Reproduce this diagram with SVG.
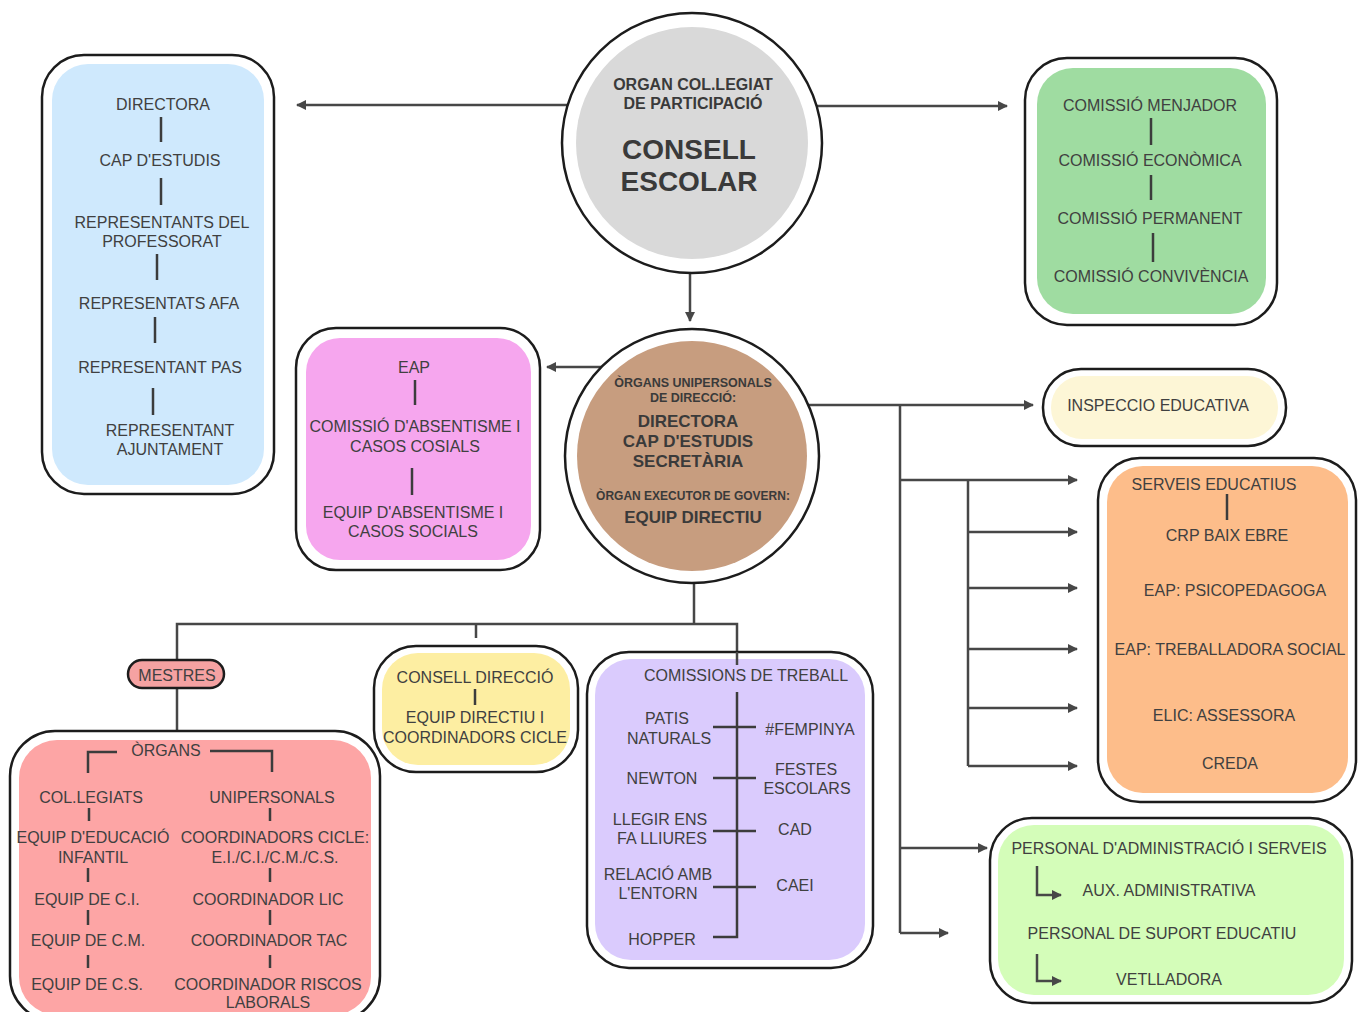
<svg xmlns="http://www.w3.org/2000/svg" width="1360" height="1012" viewBox="0 0 1360 1012">
<defs>
<style>
.t{font-family:"Liberation Sans","Arial",sans-serif;font-size:16px;fill:#404040;text-anchor:middle;dominant-baseline:central}
.b{font-family:"Liberation Sans","Arial",sans-serif;font-weight:bold;fill:#3a3a3a;text-anchor:middle;dominant-baseline:central}
.out{fill:#fff;stroke:#1c1c1c;stroke-width:2.5}
.ln{stroke:#3c3c3c;stroke-width:2.5;fill:none}
.con{stroke:#474747;stroke-width:2.5;fill:none}
</style>
<marker id="ah" viewBox="0 0 10 10" refX="9" refY="5" markerWidth="4" markerHeight="4" orient="auto-start-reverse" markerUnits="strokeWidth">
<path d="M0,0 L10,5 L0,10 Z" fill="#474747"/>
</marker>
</defs>
<rect width="1360" height="1012" fill="#fff"/>

<g id="connectors">
<line class="con" x1="568" y1="105" x2="297" y2="105" marker-end="url(#ah)"/>
<line class="con" x1="816" y1="106" x2="1007" y2="106" marker-end="url(#ah)"/>
<line class="con" x1="690" y1="273" x2="690" y2="321" marker-end="url(#ah)"/>
<line class="con" x1="601" y1="367" x2="547" y2="367" marker-end="url(#ah)"/>
<line class="con" x1="808" y1="405" x2="1033" y2="405" marker-end="url(#ah)"/>
<line class="con" x1="900" y1="405" x2="900" y2="933"/>
<line class="con" x1="900" y1="480" x2="1077" y2="480" marker-end="url(#ah)"/>
<line class="con" x1="968" y1="480" x2="968" y2="766"/>
<line class="con" x1="968" y1="532" x2="1077" y2="532" marker-end="url(#ah)"/>
<line class="con" x1="968" y1="588" x2="1077" y2="588" marker-end="url(#ah)"/>
<line class="con" x1="968" y1="649" x2="1077" y2="649" marker-end="url(#ah)"/>
<line class="con" x1="968" y1="708" x2="1077" y2="708" marker-end="url(#ah)"/>
<line class="con" x1="968" y1="766" x2="1077" y2="766" marker-end="url(#ah)"/>
<line class="con" x1="900" y1="848" x2="987" y2="848" marker-end="url(#ah)"/>
<line class="con" x1="900" y1="933" x2="948" y2="933" marker-end="url(#ah)"/>
<path class="con" d="M694,582 V624 M177,660 V624 H737 V665 M476,624 V638 M177,688 V731"/>
</g>

<g id="consell-escolar">
<circle cx="692" cy="143" r="130" class="out"/>
<circle cx="692" cy="143" r="116" fill="#d9d9d9"/>
<text class="b" x="693" y="84" font-size="16">ORGAN COL.LEGIAT</text>
<text class="b" x="693" y="103" font-size="16">DE PARTICIPACIÓ</text>
<text class="b" x="689" y="149" font-size="28">CONSELL</text>
<text class="b" x="689" y="181" font-size="28">ESCOLAR</text>
</g>

<g id="composicio">
<rect x="42" y="55" width="232" height="439" rx="42" class="out"/>
<rect x="52" y="64" width="212" height="421" rx="36" fill="#cfe9fd"/>
<text class="t" x="163" y="104">DIRECTORA</text>
<line class="ln" x1="161" y1="117" x2="161" y2="142"/>
<text class="t" x="160" y="160">CAP D'ESTUDIS</text>
<line class="ln" x1="161" y1="178" x2="161" y2="205"/>
<text class="t" x="162" y="222">REPRESENTANTS DEL</text>
<text class="t" x="162" y="241">PROFESSORAT</text>
<line class="ln" x1="157" y1="254" x2="157" y2="280"/>
<text class="t" x="159" y="303">REPRESENTATS AFA</text>
<line class="ln" x1="155" y1="317" x2="155" y2="343"/>
<text class="t" x="160" y="367">REPRESENTANT PAS</text>
<line class="ln" x1="153" y1="388" x2="153" y2="415"/>
<text class="t" x="170" y="430">REPRESENTANT</text>
<text class="t" x="170" y="449">AJUNTAMENT</text>
</g>

<g id="comissions-consell">
<rect x="1025" y="58" width="252" height="267" rx="42" class="out"/>
<rect x="1037" y="68" width="229" height="246" rx="36" fill="#9fdca1"/>
<text class="t" x="1150" y="105">COMISSIÓ MENJADOR</text>
<line class="ln" x1="1151" y1="118" x2="1151" y2="145"/>
<text class="t" x="1150" y="160">COMISSIÓ ECONÒMICA</text>
<line class="ln" x1="1151" y1="175" x2="1151" y2="200"/>
<text class="t" x="1150" y="218">COMISSIÓ PERMANENT</text>
<line class="ln" x1="1153" y1="233" x2="1153" y2="262"/>
<text class="t" x="1151" y="276">COMISSIÓ CONVIVÈNCIA</text>
</g>

<g id="eap">
<rect x="296" y="328" width="244" height="242" rx="40" class="out"/>
<rect x="306" y="338" width="225" height="222" rx="34" fill="#f6a6ee"/>
<text class="t" x="414" y="367">EAP</text>
<line class="ln" x1="415" y1="380" x2="415" y2="405"/>
<text class="t" x="415" y="426">COMISSIÓ D'ABSENTISME I</text>
<text class="t" x="415" y="446">CASOS COSIALS</text>
<line class="ln" x1="412" y1="468" x2="412" y2="495"/>
<text class="t" x="413" y="512">EQUIP D'ABSENTISME I</text>
<text class="t" x="413" y="531">CASOS SOCIALS</text>
</g>

<g id="organs-unipersonals">
<circle cx="692" cy="456" r="127" class="out"/>
<circle cx="692" cy="456" r="115" fill="#c79d7f"/>
<text class="b" x="693" y="383" font-size="12.5">ÒRGANS UNIPERSONALS</text>
<text class="b" x="693" y="398" font-size="12.5">DE DIRECCIÓ:</text>
<text class="b" x="688" y="421" font-size="17">DIRECTORA</text>
<text class="b" x="688" y="441" font-size="17">CAP D'ESTUDIS</text>
<text class="b" x="688" y="461" font-size="17">SECRETÀRIA</text>
<text class="b" x="693" y="496" font-size="12">ÒRGAN EXECUTOR DE GOVERN:</text>
<text class="b" x="693" y="517" font-size="17">EQUIP DIRECTIU</text>
</g>

<g id="inspeccio">
<rect x="1043" y="369" width="243" height="77" rx="38" class="out"/>
<rect x="1051" y="376" width="227" height="63" rx="31" fill="#fdf6d6"/>
<text class="t" x="1158" y="405">INSPECCIO EDUCATIVA</text>
</g>

<g id="serveis-educatius">
<rect x="1098" y="458" width="258" height="344" rx="42" class="out"/>
<rect x="1107" y="466" width="241" height="327" rx="36" fill="#fdbd8a"/>
<text class="t" x="1214" y="484">SERVEIS EDUCATIUS</text>
<line class="ln" x1="1227" y1="494" x2="1227" y2="520"/>
<text class="t" x="1227" y="535">CRP BAIX EBRE</text>
<text class="t" x="1235" y="590">EAP: PSICOPEDAGOGA</text>
<text class="t" x="1230" y="649">EAP: TREBALLADORA SOCIAL</text>
<text class="t" x="1224" y="715">ELIC: ASSESSORA</text>
<text class="t" x="1230" y="763">CREDA</text>
</g>

<g id="personal">
<rect x="990" y="818" width="362" height="185" rx="42" class="out"/>
<rect x="998" y="825" width="346" height="170" rx="36" fill="#d4fdb9"/>
<text class="t" x="1169" y="848">PERSONAL D'ADMINISTRACIÓ I SERVEIS</text>
<path class="con" d="M1037,866 V895 H1061" marker-end="url(#ah)"/>
<text class="t" x="1169" y="890">AUX. ADMINISTRATIVA</text>
<text class="t" x="1162" y="933">PERSONAL DE SUPORT EDUCATIU</text>
<path class="con" d="M1037,954 V981 H1061" marker-end="url(#ah)"/>
<text class="t" x="1169" y="979">VETLLADORA</text>
</g>

<g id="mestres">
<rect x="128" y="660" width="96" height="28" rx="14" fill="#f5a2a2" stroke="#1c1c1c" stroke-width="2.5"/>
<text class="t" x="177" y="675">MESTRES</text>
</g>

<g id="organs">
<rect x="10" y="731" width="370" height="290" rx="45" class="out"/>
<rect x="19" y="740" width="352" height="275" rx="38" fill="#fda5a5"/>
<text class="t" x="166" y="750">ÒRGANS</text>
<path class="ln" d="M117,752 H88 V773 M210,751 H272 V772"/>
<text class="t" x="91" y="797">COL.LEGIATS</text>
<text class="t" x="272" y="797">UNIPERSONALS</text>
<line class="ln" x1="89" y1="808" x2="89" y2="821"/>
<line class="ln" x1="270" y1="808" x2="270" y2="821"/>
<text class="t" x="93" y="837">EQUIP D'EDUCACIÓ</text>
<text class="t" x="93" y="857">INFANTIL</text>
<text class="t" x="275" y="837">COORDINADORS CICLE:</text>
<text class="t" x="275" y="857">E.I./C.I./C.M./C.S.</text>
<line class="ln" x1="88" y1="868" x2="88" y2="882"/>
<line class="ln" x1="270" y1="868" x2="270" y2="882"/>
<text class="t" x="87" y="899">EQUIP DE C.I.</text>
<text class="t" x="268" y="899">COORDINADOR LIC</text>
<line class="ln" x1="88" y1="910" x2="88" y2="925"/>
<line class="ln" x1="270" y1="910" x2="270" y2="925"/>
<text class="t" x="88" y="940">EQUIP DE C.M.</text>
<text class="t" x="269" y="940">COORDINADOR TAC</text>
<line class="ln" x1="88" y1="955" x2="88" y2="968"/>
<line class="ln" x1="270" y1="955" x2="270" y2="968"/>
<text class="t" x="87" y="984">EQUIP DE C.S.</text>
<text class="t" x="268" y="984">COORDINADOR RISCOS</text>
<text class="t" x="268" y="1002">LABORALS</text>
</g>

<g id="consell-direccio">
<rect x="374" y="646" width="204" height="126" rx="42" class="out"/>
<rect x="382" y="653" width="188" height="112" rx="36" fill="#fdeea2"/>
<text class="t" x="475" y="677">CONSELL DIRECCIÓ</text>
<line class="ln" x1="475" y1="689" x2="475" y2="705"/>
<text class="t" x="475" y="717">EQUIP DIRECTIU I</text>
<text class="t" x="475" y="737">COORDINADORS CICLE</text>
</g>

<g id="comissions-treball">
<rect x="587" y="652" width="286" height="316" rx="42" class="out"/>
<rect x="595" y="659" width="270" height="301" rx="36" fill="#dacbfd"/>
<line class="con" x1="737" y1="652" x2="737" y2="665"/>
<text class="t" x="746" y="675">COMISSIONS DE TREBALL</text>
<path class="ln" d="M737,692 V937 H713 M713,727 H756 M713,778 H756 M713,831 H756 M713,887 H756"/>
<text class="t" x="667" y="718">PATIS</text>
<text class="t" x="669" y="738">NATURALS</text>
<text class="t" x="662" y="778">NEWTON</text>
<text class="t" x="660" y="819">LLEGIR ENS</text>
<text class="t" x="662" y="838">FA LLIURES</text>
<text class="t" x="658" y="874">RELACIÓ AMB</text>
<text class="t" x="658" y="893">L'ENTORN</text>
<text class="t" x="662" y="939">HOPPER</text>
<text class="t" x="810" y="729">#FEMPINYA</text>
<text class="t" x="806" y="769">FESTES</text>
<text class="t" x="807" y="788">ESCOLARS</text>
<text class="t" x="795" y="829">CAD</text>
<text class="t" x="795" y="885">CAEI</text>
</g>
</svg>
